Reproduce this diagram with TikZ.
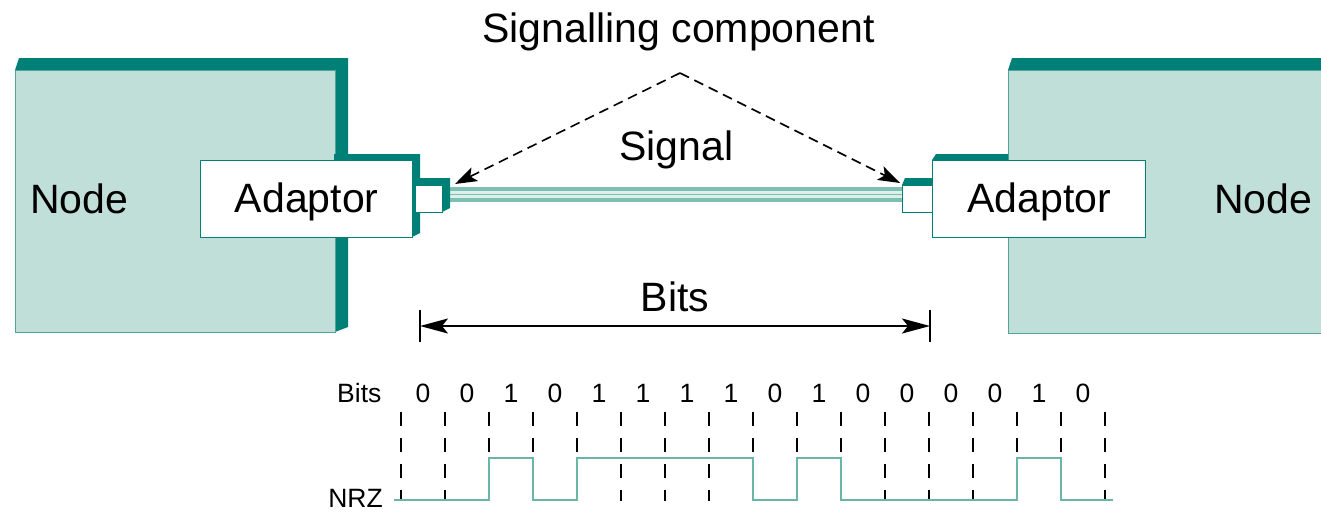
\documentclass[tikz,border=0pt]{standalone}
\usepackage{fontspec}
\setmainfont{Liberation Sans}
\usetikzlibrary{arrows.meta}
\definecolor{tealdark}{RGB}{0,128,118}
\definecolor{teallight}{RGB}{192,223,216}
\definecolor{tealline}{RGB}{80,165,150}
\definecolor{wavecol}{RGB}{105,182,168}
\definecolor{cablemid}{RGB}{125,192,179}
\definecolor{cablelight}{RGB}{220,239,234}
\begin{document}
\begin{tikzpicture}[x=1pt,y=-1pt,
  big/.style={font=\fontsize{41}{48}\selectfont, inner sep=0pt},
  small/.style={font=\fontsize{26.5}{31}\selectfont, inner sep=0pt},
  nodebox/.style={draw=tealline, fill=teallight, line width=1.2pt, inner sep=0pt, anchor=north west},
  adaptbox/.style={draw=tealdark, fill=white, line width=1.4pt, inner sep=0pt, anchor=north west,
     minimum width=212pt, minimum height=77pt, font=\fontsize{41}{48}\selectfont, text height=30pt, text depth=3pt},
  portbox/.style={draw=tealdark, fill=white, line width=1.2pt, inner sep=0pt, anchor=north west,
     minimum height=27pt},
  band/.style={fill=tealdark},
  dasharrow/.style={draw=black, line width=1.6pt, dash pattern=on 10pt off 6pt,
     -{Stealth[length=22pt, width=15pt, inset=5pt]}},
  dimarrow/.style={draw=black, line width=2pt,
     {Stealth[length=28pt, width=15pt, inset=6pt]}-{Stealth[length=28pt, width=15pt, inset=6pt]}},
  tick/.style={draw=black, line width=2pt},
  gridline/.style={draw=black, line width=1.3pt, dash pattern=on 14pt off 12pt},
  wave/.style={draw=wavecol, line width=2pt}
]
\useasboundingbox (0,0) rectangle (1321,512);

% ---------- left node ----------
\fill[band] (15,70) -- (19,58) -- (348,58) -- (348,327) -- (335,332) -- (335,70) -- cycle;
\node[nodebox, minimum width=320pt, minimum height=262pt] (lnode) at (15,70) {};
\node[big, anchor=base west] (lnodetext) at (30,213) {Node};

% left adaptor
\fill[band] (334,154) -- (420,154) -- (420,233) -- (412,237) -- (412,160) -- (334,160) -- cycle;
\node[adaptbox] (ladapt) at (200,160) {Adaptor};

% cable
\draw[line width=15pt, cablemid] ([yshift=4pt]442,198.5) coordinate (cA) -- ([yshift=4pt]902,198.5) coordinate (cB);
\draw[line width=7pt, cablelight] (cA) -- (cB);
\draw[line width=1.5pt, cablemid] (cA) -- (cB);

% left port
\fill[band] (415,185) -- (418,178) -- (450,178) -- (450,208) -- (442,212) -- (442,185) -- cycle;
\node[portbox, minimum width=27pt] (lport) at (415,185) {};

% right port
\fill[band] (902,185) -- (905,178) -- (935,178) -- (935,185) -- cycle;
\node[portbox, minimum width=30pt] (rport) at (902,185) {};

% ---------- right node ----------
\fill[band] (1008,70) -- (1012,58) -- (1330,58) -- (1330,70) -- cycle;
\node[nodebox, minimum width=322pt, minimum height=263pt] (rnode) at (1008,70) {};
\node[big, anchor=base west] (rnodetext) at (1214,213) {Node};

% right adaptor
\fill[band] (932,160) -- (936,154) -- (1008,154) -- (1008,160) -- cycle;
\node[adaptbox, minimum width=213pt] (radapt) at (932,160) {Adaptor};

% ---------- labels and arrows ----------
\node[big, anchor=base] (sigcomp) at (678.5,42) {Signalling component};
\node[big, anchor=base] (signal) at (676.5,160) {Signal};
\coordinate (apex) at (680,73);
\coordinate (ltip) at (455,184);
\coordinate (rtip) at (900,183);
\draw[dasharrow] (apex) -- (ltip);
\draw[dasharrow] (apex) -- (rtip);

\node[big, anchor=base] (bitslabel) at (675,311) {Bits};
\coordinate (bA) at (420,326);
\coordinate (bB) at (930,326);
\draw[tick] (420,310) -- (420,342);
\draw[tick] (930,310) -- (930,342);
\draw[dimarrow] (bA) -- (bB);

% ---------- bit pattern ----------
\node[small, anchor=base west] (bitsrow) at (337,402) {Bits};
\foreach \b [count=\i from 0] in {0,0,1,0,1,1,1,1,0,1,0,0,0,0,1,0} {
  \node[small, anchor=base] (bit\i) at ({423+44*\i},402) {\b};
}
\foreach \i in {0,...,16} {
  \draw[gridline] ({401+44*\i},412) -- ({401+44*\i},501);
}
\node[small, anchor=base east] (nrz) at (383,507.5) {NRZ};
\draw[wave] (394,500) -- (489,500) -- (489,458) -- (533,458) -- (533,500) -- (577,500)
  -- (577,458) -- (753,458) -- (753,500) -- (797,500) -- (797,458) -- (841,458)
  -- (841,500) -- (1017,500) -- (1017,458) -- (1061,458) -- (1061,500) -- (1113,500);
\end{tikzpicture}
\end{document}
